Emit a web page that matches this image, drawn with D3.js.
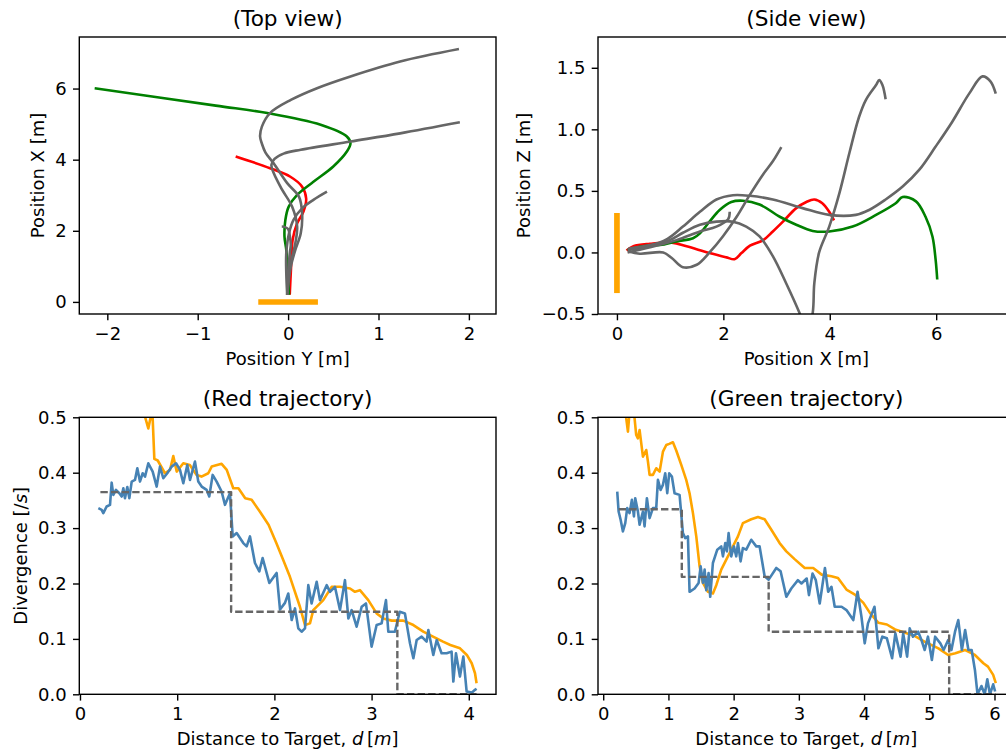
<!DOCTYPE html>
<html>
<head>
<meta charset="utf-8">
<script src="https://cdn.jsdelivr.net/npm/d3@7"></script>
<style>
  body { margin: 0; background: #fff; }
  svg text { font-family: "DejaVu Sans", sans-serif; fill: #000; }
</style>
</head>
<body>
<script>
// ---------- Trajectories, top view: [position Y, position X] in metres ----------
const topRed = [[0.018,0.2],[0.033,0.99],[0.05,1.74],[0.10,2.21],[0.17,2.54],[0.2,2.9],[0.155,3.24],[0.025,3.52],[-0.2,3.76],[-0.58,4.09]];
const topGreen = [[0.01,0.2],[0.0,0.8],[-0.02,1.46],[-0.04,1.84],[-0.03,2.31],[0.007,2.68],[0.10,3.01],[0.28,3.38],[0.5,3.81],[0.65,4.23],[0.69,4.46],[0.65,4.65],[0.36,4.98],[-0.23,5.31],[-0.8,5.52],[-2.14,6.01]];
const topGrayA = [[-0.01,0.2],[-0.02,0.81],[-0.02,1.37],[0.01,1.93],[0.06,2.31],[0.155,2.63],[0.28,2.87],[0.43,3.10]];
const topGrayB = [[-0.01,0.2],[0.03,0.99],[0.08,1.46],[0.14,1.93],[0.155,2.49],[0.12,2.96],[-0.01,3.34],[-0.16,3.90],[-0.25,4.2],[-0.29,4.45],[-0.31,4.65],[-0.29,4.93],[-0.2,5.31],[0.03,5.68],[0.32,6.01],[0.69,6.34],[1.24,6.76],[1.89,7.11]];
const topGrayC = [[-0.01,0.2],[0.0,0.53],[0.03,1.09],[0.08,1.65],[0.10,2.12],[0.044,2.68],[-0.085,3.24],[-0.185,3.85],[-0.15,4.02],[-0.05,4.17],[0.14,4.28],[0.69,4.51],[1.24,4.74],[1.90,5.05]];
const topGrayD = [[-0.01,0.2],[0.0,0.8],[0.02,1.4],[0.03,1.6],[0.02,1.84],[0.0,2.05],[-0.04,2.11],[-0.07,2.12]];

// ---------- Trajectories, side view: [position X, position Z] in metres ----------
const sideRed = [[0.18,0.016],[0.31,0.05],[0.62,0.07],[1.03,0.08],[1.31,0.05],[1.74,-0.005],[2.06,-0.04],[2.21,-0.055],[2.34,-0.005],[2.50,0.055],[2.75,0.10],[2.93,0.17],[3.12,0.25],[3.37,0.36],[3.56,0.41],[3.71,0.43],[3.86,0.40],[3.99,0.33],[4.08,0.26]];
const sideGreen = [[0.2,0.02],[0.49,0.05],[0.81,0.06],[1.12,0.09],[1.43,0.115],[1.56,0.155],[1.74,0.25],[1.93,0.345],[2.15,0.41],[2.37,0.42],[2.68,0.39],[3.06,0.29],[3.37,0.225],[3.68,0.175],[3.99,0.17],[4.43,0.21],[4.87,0.305],[5.24,0.40],[5.37,0.45],[5.62,0.415],[5.80,0.29],[5.93,0.13],[5.99,-0.06],[6.02,-0.22]];
const sideGrayA = [[0.21,0.01],[0.43,-0.01],[0.87,0.0],[1.03,-0.045],[1.24,-0.12],[1.50,-0.10],[1.74,0.0],[1.99,0.13],[2.25,0.29],[2.50,0.47],[2.74,0.63],[2.93,0.74],[3.09,0.855]];
const sideGrayB = [[0.2,0.02],[0.6,0.05],[0.95,0.11],[1.24,0.21],[1.56,0.33],[1.87,0.43],[2.18,0.465],[2.50,0.46],[2.93,0.43],[3.49,0.36],[3.99,0.305],[4.49,0.305],[4.74,0.345],[5.05,0.43],[5.37,0.535],[5.68,0.67],[5.99,0.86],[6.30,1.06],[6.62,1.29],[6.87,1.43],[7.02,1.39],[7.12,1.29]];
const sideGrayC = [[0.21,0.03],[0.62,0.06],[0.99,0.10],[1.24,0.16],[1.56,0.225],[1.87,0.25],[2.18,0.25],[2.43,0.21],[2.68,0.13],[2.93,-0.03],[3.18,-0.25],[3.43,-0.49],[3.58,-0.66],[3.68,-0.49],[3.71,-0.25],[3.80,0.0],[3.99,0.21],[4.18,0.48],[4.37,0.81],[4.55,1.10],[4.68,1.24],[4.87,1.36],[4.93,1.40],[4.99,1.36],[5.05,1.245]];
const sideGrayD = [[0.2,0.0],[0.6,0.04],[1.12,0.10],[1.56,0.17],[1.87,0.21],[2.09,0.27],[2.12,0.33]];

// Landing target extent (metres), drawn as a thick bar at the origin
const targetTop = [[-0.33,0],[0.33,0]];
const targetSide = [[0,-0.33],[0,0.32]];

// ---------- Divergence along the red trajectory: [distance d, divergence] ----------
const redMeasured = [[0.189,0.336],[0.223,0.333],[0.24,0.327],[0.274,0.339],[0.309,0.342],[0.326,0.382],[0.343,0.360],[0.370,0.369],[0.405,0.363],[0.429,0.357],[0.446,0.372],[0.463,0.354],[0.487,0.374],[0.508,0.354],[0.532,0.384],[0.566,0.387],[0.59,0.408],[0.617,0.384],[0.645,0.399],[0.669,0.393],[0.703,0.417],[0.748,0.402],[0.789,0.375],[0.823,0.411],[0.857,0.390],[0.898,0.399],[0.943,0.411],[0.988,0.417],[1.029,0.405],[1.063,0.381],[1.104,0.414],[1.132,0.387],[1.183,0.420],[1.217,0.384],[1.252,0.375],[1.303,0.369],[1.33,0.357],[1.365,0.396],[1.406,0.384],[1.457,0.366],[1.492,0.342],[1.543,0.363],[1.571,0.285],[1.612,0.291],[1.68,0.273],[1.715,0.267],[1.749,0.285],[1.80,0.237],[1.845,0.222],[1.879,0.246],[1.948,0.201],[2.023,0.219],[2.058,0.153],[2.109,0.165],[2.143,0.182],[2.178,0.134],[2.212,0.155],[2.246,0.119],[2.28,0.113],[2.315,0.119],[2.349,0.197],[2.383,0.164],[2.435,0.203],[2.469,0.170],[2.538,0.197],[2.572,0.185],[2.623,0.194],[2.675,0.152],[2.726,0.206],[2.761,0.137],[2.795,0.152],[2.846,0.122],[2.898,0.158],[2.942,0.164],[3.0,0.086],[3.052,0.125],[3.103,0.128],[3.148,0.170],[3.172,0.113],[3.24,0.113],[3.29,0.149],[3.343,0.146],[3.395,0.092],[3.43,0.065],[3.464,0.098],[3.515,0.104],[3.566,0.095],[3.584,0.116],[3.635,0.071],[3.67,0.098],[3.72,0.074],[3.772,0.074],[3.823,0.077],[3.841,0.023],[3.868,0.074],[3.909,0.032],[3.944,0.068],[3.978,0.005],[4.03,0.003],[4.064,0.008],[4.08,0.01]];
const redReference = [[0.62,0.56],[0.669,0.501],[0.703,0.48],[0.727,0.50],[0.745,0.51],[0.765,0.425],[0.80,0.422],[0.874,0.399],[0.926,0.405],[0.96,0.43],[0.995,0.402],[1.063,0.417],[1.13,0.414],[1.20,0.396],[1.25,0.393],[1.32,0.399],[1.355,0.411],[1.457,0.416],[1.51,0.405],[1.577,0.372],[1.63,0.372],[1.70,0.354],[1.766,0.351],[1.85,0.33],[1.94,0.306],[2.02,0.273],[2.09,0.243],[2.16,0.212],[2.263,0.158],[2.315,0.125],[2.366,0.128],[2.40,0.152],[2.503,0.170],[2.589,0.194],[2.675,0.194],[2.778,0.191],[2.829,0.185],[2.88,0.188],[2.966,0.170],[3.052,0.146],[3.12,0.137],[3.207,0.133],[3.326,0.133],[3.43,0.125],[3.532,0.113],[3.632,0.104],[3.735,0.095],[3.81,0.089],[3.91,0.083],[3.98,0.071],[4.03,0.056],[4.064,0.038],[4.08,0.02]];
const redStepD = [0.21, 1.555, 3.265, 4.08];
const redStepV = [0.365, 0.149, 0.0, 0.0];

// ---------- Divergence along the green trajectory ----------
const greenMeasured = [[0.215,0.366],[0.236,0.330],[0.267,0.315],[0.302,0.294],[0.338,0.309],[0.368,0.336],[0.404,0.327],[0.44,0.351],[0.471,0.321],[0.491,0.354],[0.532,0.330],[0.558,0.306],[0.609,0.330],[0.634,0.303],[0.67,0.354],[0.711,0.318],[0.762,0.336],[0.813,0.336],[0.839,0.387],[0.88,0.369],[0.915,0.378],[0.951,0.399],[0.982,0.363],[1.012,0.399],[1.053,0.393],[1.094,0.363],[1.171,0.360],[1.222,0.291],[1.258,0.282],[1.299,0.285],[1.324,0.185],[1.401,0.191],[1.463,0.201],[1.494,0.231],[1.529,0.201],[1.555,0.225],[1.58,0.188],[1.616,0.219],[1.641,0.176],[1.682,0.237],[1.749,0.261],[1.81,0.267],[1.836,0.249],[1.872,0.273],[1.897,0.258],[1.923,0.291],[1.963,0.249],[2.004,0.267],[2.04,0.249],[2.066,0.273],[2.107,0.240],[2.142,0.264],[2.193,0.261],[2.27,0.279],[2.347,0.267],[2.398,0.267],[2.475,0.213],[2.537,0.207],[2.654,0.228],[2.72,0.222],[2.808,0.176],[2.884,0.191],[2.986,0.206],[3.04,0.20],[3.12,0.209],[3.155,0.179],[3.21,0.218],[3.26,0.206],[3.32,0.164],[3.40,0.228],[3.45,0.185],[3.50,0.194],[3.55,0.158],[3.655,0.158],[3.73,0.152],[3.835,0.134],[3.90,0.185],[3.96,0.140],[4.01,0.092],[4.06,0.128],[4.16,0.158],[4.22,0.083],[4.28,0.104],[4.35,0.101],[4.43,0.065],[4.48,0.110],[4.56,0.068],[4.60,0.110],[4.66,0.068],[4.70,0.119],[4.75,0.104],[4.83,0.113],[4.88,0.098],[4.93,0.080],[4.98,0.104],[5.04,0.062],[5.09,0.104],[5.17,0.092],[5.22,0.080],[5.29,0.098],[5.34,0.080],[5.395,0.113],[5.445,0.134],[5.50,0.080],[5.55,0.116],[5.60,0.080],[5.65,0.080],[5.70,0.044],[5.74,0.0],[5.80,0.015],[5.85,0.0],[5.89,0.027],[5.93,0.0],[5.98,0.018],[6.01,0.005]];
const greenReference = [[0.30,0.56],[0.353,0.498],[0.379,0.474],[0.404,0.51],[0.455,0.52],[0.481,0.498],[0.506,0.468],[0.532,0.462],[0.558,0.477],[0.609,0.429],[0.66,0.441],[0.686,0.42],[0.711,0.396],[0.762,0.396],[0.813,0.408],[0.865,0.402],[0.916,0.438],[0.967,0.45],[1.012,0.452],[1.069,0.455],[1.12,0.44],[1.197,0.414],[1.273,0.387],[1.324,0.363],[1.376,0.327],[1.427,0.285],[1.478,0.231],[1.529,0.201],[1.606,0.185],[1.682,0.182],[1.734,0.197],[1.81,0.225],[1.887,0.243],[1.963,0.261],[2.066,0.285],[2.142,0.309],[2.27,0.316],[2.373,0.32],[2.475,0.316],[2.578,0.297],[2.705,0.273],[2.808,0.258],[2.935,0.244],[3.09,0.228],[3.22,0.228],[3.35,0.216],[3.50,0.213],[3.60,0.21],[3.73,0.189],[3.86,0.18],[3.99,0.165],[4.09,0.147],[4.22,0.129],[4.35,0.126],[4.475,0.117],[4.63,0.111],[4.78,0.105],[4.96,0.093],[5.14,0.083],[5.29,0.071],[5.40,0.074],[5.55,0.080],[5.70,0.071],[5.83,0.056],[5.90,0.050],[5.98,0.035],[6.02,0.02]];
const greenStepD = [0.236, 1.205, 2.537, 5.305, 6.02];
const greenStepV = [0.334, 0.212, 0.113, 0.0, 0.0];

// ---------- Tick values ----------
const topXTicks = [-2, -1, 0, 1, 2];
const topYTicks = [0, 2, 4, 6];
const sideXTicks = [0, 2, 4, 6];
const sideYTicks = [-0.5, 0, 0.5, 1.0, 1.5];
const redXTicks = [0, 1, 2, 3, 4];
const greenXTicks = [0, 1, 2, 3, 4, 5, 6];
const divYTicks = [0, 0.1, 0.2, 0.3, 0.4, 0.5];

// ---------- Styling ----------
const C = { gray: "#666666", red: "#ff0000", green: "#008000", orange: "#ffa500", blue: "#4682b4" };
const TICK_FS = 18, LABEL_FS = 18, TITLE_FS = 21.6;
const TICK_LEN = 6.3, TICK_PAD = 6.3, FRAME_W = 1.4;
const LINE_W = 2.6;
const PW = 416.7, PH = 277;

const svg = d3.select("body").append("svg")
  .attr("width", 1006).attr("height", 751)
  .attr("viewBox", "0 0 1006 751");

function makePanel(o) {
  const g = svg.append("g").attr("transform", `translate(${o.left},${o.top})`);
  const x = d3.scaleLinear().domain(o.xDomain).range([0, PW]);
  const y = d3.scaleLinear().domain(o.yDomain).range([PH, 0]);

  g.append("clipPath").attr("id", "clip-" + o.id)
    .append("rect").attr("width", PW).attr("height", PH);
  const plot = g.append("g").attr("clip-path", `url(#clip-${o.id})`);

  const xAxis = g.append("g").attr("transform", `translate(0,${PH})`)
    .call(d3.axisBottom(x).tickValues(o.xTicks).tickFormat(o.xFmt)
      .tickSize(TICK_LEN).tickSizeOuter(0).tickPadding(TICK_PAD + 0.6));
  const yAxis = g.append("g")
    .call(d3.axisLeft(y).tickValues(o.yTicks).tickFormat(o.yFmt)
      .tickSize(TICK_LEN).tickSizeOuter(0).tickPadding(TICK_PAD));
  [xAxis, yAxis].forEach(a => {
    a.attr("font-family", null).attr("font-size", null);
    a.select(".domain").remove();
    a.selectAll(".tick line").attr("stroke", "#000").attr("stroke-width", FRAME_W);
    a.selectAll(".tick text").style("font-size", TICK_FS + "px");
  });

  g.append("rect").attr("width", PW).attr("height", PH)
    .attr("fill", "none").attr("stroke", "#000").attr("stroke-width", FRAME_W);

  g.append("text").attr("x", PW / 2).attr("y", -11)
    .attr("text-anchor", "middle").style("font-size", TITLE_FS + "px")
    .text(o.title);

  const xl = g.append("text").attr("x", PW / 2).attr("y", PH + 50.7)
    .attr("text-anchor", "middle").style("font-size", LABEL_FS + "px");
  o.xLabel(xl);

  if (o.yLabel) {
    const yl = g.append("text")
      .attr("transform", `translate(${o.yLabelX},${PH / 2}) rotate(-90)`)
      .attr("text-anchor", "middle").style("font-size", LABEL_FS + "px");
    o.yLabel(yl);
  }
  return { plot, x, y };
}

function plain(s) { return t => t.text(s); }
function distanceLabel(t) {
  t.append("tspan").text("Distance to Target, ");
  t.append("tspan").style("font-style", "italic").text("d");
  t.append("tspan").text("\u2009[");
  t.append("tspan").style("font-style", "italic").text("m");
  t.append("tspan").text("]");
}
function divergenceLabel(t) {
  t.append("tspan").text("Divergence [/");
  t.append("tspan").style("font-style", "italic").text("s");
  t.append("tspan").text("]");
}

const intFmt = d3.format("d");
const oneDec = d3.format(".1f");

function drawLine(p, data, color, opts = {}) {
  const line = d3.line().x(d => p.x(d[0])).y(d => p.y(d[1]));
  if (opts.smooth) line.curve(d3.curveCatmullRom.alpha(0.5));
  if (opts.step) line.curve(d3.curveStepAfter);
  p.plot.append("path").datum(data)
    .attr("d", line)
    .attr("fill", "none")
    .attr("stroke", color)
    .attr("stroke-width", opts.width || LINE_W)
    .attr("stroke-linejoin", "round")
    .attr("stroke-linecap", opts.cap || "butt")
    .attr("stroke-dasharray", opts.dash || null);
}

// ---- Top view ----
const pTop = makePanel({
  id: "top", left: 79.3, top: 37,
  xDomain: [-2.31, 2.30], yDomain: [-0.34, 7.45],
  xTicks: topXTicks, yTicks: topYTicks, xFmt: intFmt, yFmt: intFmt,
  title: "(Top view)", xLabel: plain("Position Y [m]"),
  yLabel: plain("Position X [m]"), yLabelX: -35.3
});
drawLine(pTop, targetTop, C.orange, { width: 5.5 });
drawLine(pTop, topRed, C.red, { smooth: true });
drawLine(pTop, topGreen, C.green, { smooth: true });
[topGrayA, topGrayB, topGrayC, topGrayD].forEach(t => drawLine(pTop, t, C.gray, { smooth: true }));

// ---- Side view ----
const pSide = makePanel({
  id: "side", left: 598, top: 37,
  xDomain: [-0.356, 7.476], yDomain: [-0.5, 1.75],
  xTicks: sideXTicks, yTicks: sideYTicks, xFmt: intFmt, yFmt: oneDec,
  title: "(Side view)", xLabel: plain("Position X [m]"),
  yLabel: plain("Position Z [m]"), yLabelX: -68
});
drawLine(pSide, targetSide, C.orange, { width: 5.7 });
drawLine(pSide, sideRed, C.red, { smooth: true });
drawLine(pSide, sideGreen, C.green, { smooth: true });
[sideGrayA, sideGrayB, sideGrayC, sideGrayD].forEach(t => drawLine(pSide, t, C.gray, { smooth: true }));

// ---- Divergence, red trajectory ----
const pRed = makePanel({
  id: "red", left: 79.3, top: 417.3,
  xDomain: [-0.007, 4.28], yDomain: [0, 0.5],
  xTicks: redXTicks, yTicks: divYTicks, xFmt: intFmt, yFmt: oneDec,
  title: "(Red trajectory)", xLabel: distanceLabel,
  yLabel: divergenceLabel, yLabelX: -52.6
});
drawLine(pRed, redReference, C.orange);
drawLine(pRed, redMeasured, C.blue);
drawLine(pRed, redStepD.map((d, i) => [d, redStepV[i]]), C.gray, { step: true, dash: "7.4 3.2", width: 2.4 });

// ---- Divergence, green trajectory ----
const pGreen = makePanel({
  id: "green", left: 598, top: 417.3,
  xDomain: [-0.08, 6.31], yDomain: [0, 0.5],
  xTicks: greenXTicks, yTicks: divYTicks, xFmt: intFmt, yFmt: oneDec,
  title: "(Green trajectory)", xLabel: distanceLabel
});
drawLine(pGreen, greenReference, C.orange);
drawLine(pGreen, greenMeasured, C.blue);
drawLine(pGreen, greenStepD.map((d, i) => [d, greenStepV[i]]), C.gray, { step: true, dash: "7.4 3.2", width: 2.4 });
</script>
</body>
</html>
